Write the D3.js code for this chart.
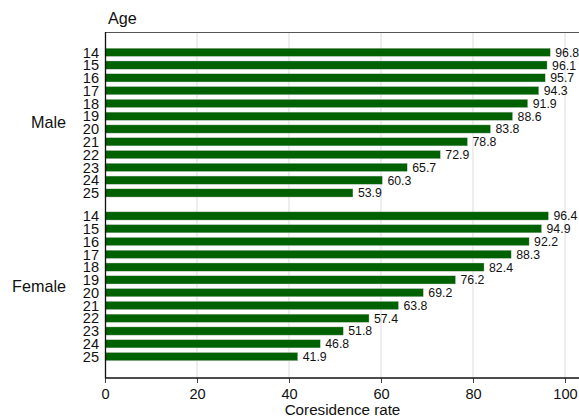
<!DOCTYPE html>
<html><head><meta charset="utf-8">
<script src="https://cdn.jsdelivr.net/npm/d3@7"></script>
<style>body{margin:0;background:#fff}svg{display:block;font-family:"Liberation Sans",Arial,sans-serif}</style>
</head><body><svg id="c" width="579" height="417"></svg>
<script>
const groups = ["Male", "Female"];
const ages = ["14","15","16","17","18","19","20","21","22","23","24","25"];
const maleValues = [96.8, 96.1, 95.7, 94.3, 91.9, 88.6, 83.8, 78.8, 72.9, 65.7, 60.3, 53.9];
const femaleValues = [96.4, 94.9, 92.2, 88.3, 82.4, 76.2, 69.2, 63.8, 57.4, 51.8, 46.8, 41.9];
const xTicks = [0, 20, 40, 60, 80, 100];

const svg = d3.select("#c");
const mLeft = 105, mRight = 565, mTop = 32, mBottom = 378;
const x = d3.scaleLinear().domain([0, 100]).range([mLeft, mRight]);
const groupGap = 0.8;
const slot = d3.scaleLinear().domain([0, 23 + groupGap]).range([52.3, 356.6]);
const barH = 8.2;

const data = [];
groups.forEach((g, gi) => {
  const vals = gi === 0 ? maleValues : femaleValues;
  ages.forEach((a, i) => data.push({group: g, age: a, value: vals[i], s: gi * (12 + groupGap) + i}));
});

// gridlines
svg.append("g").selectAll("line").data(xTicks.filter(d => d > 0)).join("line")
  .attr("x1", d => x(d)).attr("x2", d => x(d)).attr("y1", mTop).attr("y2", mBottom)
  .attr("stroke", "#dcdcdc").attr("stroke-width", 1);

// top border
svg.append("line").attr("x1", mLeft).attr("x2", 579).attr("y1", mTop + 0.5).attr("y2", mTop + 0.5)
  .attr("stroke", "#555").attr("stroke-width", 1);

// bars
svg.append("g").selectAll("rect").data(data).join("rect")
  .attr("x", x(0)).attr("y", d => slot(d.s) - barH / 2)
  .attr("width", d => x(d.value) - x(0)).attr("height", barH)
  .attr("fill", "#006100").attr("stroke", "#c8c8c8").attr("stroke-width", 0.4);

// value labels
svg.append("g").selectAll("text").data(data).join("text")
  .attr("x", d => x(d.value) + 5).attr("y", d => slot(d.s)).attr("dy", "0.36em")
  .attr("font-size", 12.3).attr("fill", "#111").text(d => d.value.toFixed(1));

// age labels
svg.append("g").selectAll("text").data(data).join("text")
  .attr("x", 99).attr("y", d => slot(d.s)).attr("dy", "0.36em").attr("text-anchor", "end")
  .attr("font-size", 14.6).attr("fill", "#111").text(d => d.age);

// group labels
svg.append("g").selectAll("text").data(groups).join("text")
  .attr("x", 66).attr("y", (g, gi) => (slot(gi * (12 + groupGap)) + slot(gi * (12 + groupGap) + 11)) / 2)
  .attr("dy", "0.36em").attr("text-anchor", "end")
  .attr("font-size", 16.2).attr("fill", "#111").text(d => d);

// left axis line
svg.append("line").attr("x1", mLeft + 0.5).attr("x2", mLeft + 0.5).attr("y1", mTop).attr("y2", mBottom)
  .attr("stroke", "#111").attr("stroke-width", 1.3);

// x axis
const xAxis = d3.axisBottom(x).tickValues(xTicks).tickSize(5).tickPadding(6).tickFormat(d3.format("d"));
const gx = svg.append("g").attr("transform", `translate(0,${mBottom})`).call(xAxis);
gx.select(".domain").remove();
gx.append("line").attr("x1", mLeft).attr("x2", 579).attr("y1", 0).attr("y2", 0).attr("stroke", "#111").attr("stroke-width", 1.5);
gx.selectAll(".tick line").attr("stroke", "#444").attr("stroke-width", 1);
gx.selectAll(".tick text").attr("font-size", 14.6).attr("fill", "#111")
  .attr("font-family", "'Liberation Sans',Arial,sans-serif");

svg.append("text").attr("x", 342.5).attr("y", 415).attr("text-anchor", "middle")
  .attr("font-size", 15.2).attr("fill", "#111").text("Coresidence rate");

svg.append("text").attr("x", 108).attr("y", 24).attr("font-size", 16.2).attr("fill", "#111").text("Age");
</script></body></html>
